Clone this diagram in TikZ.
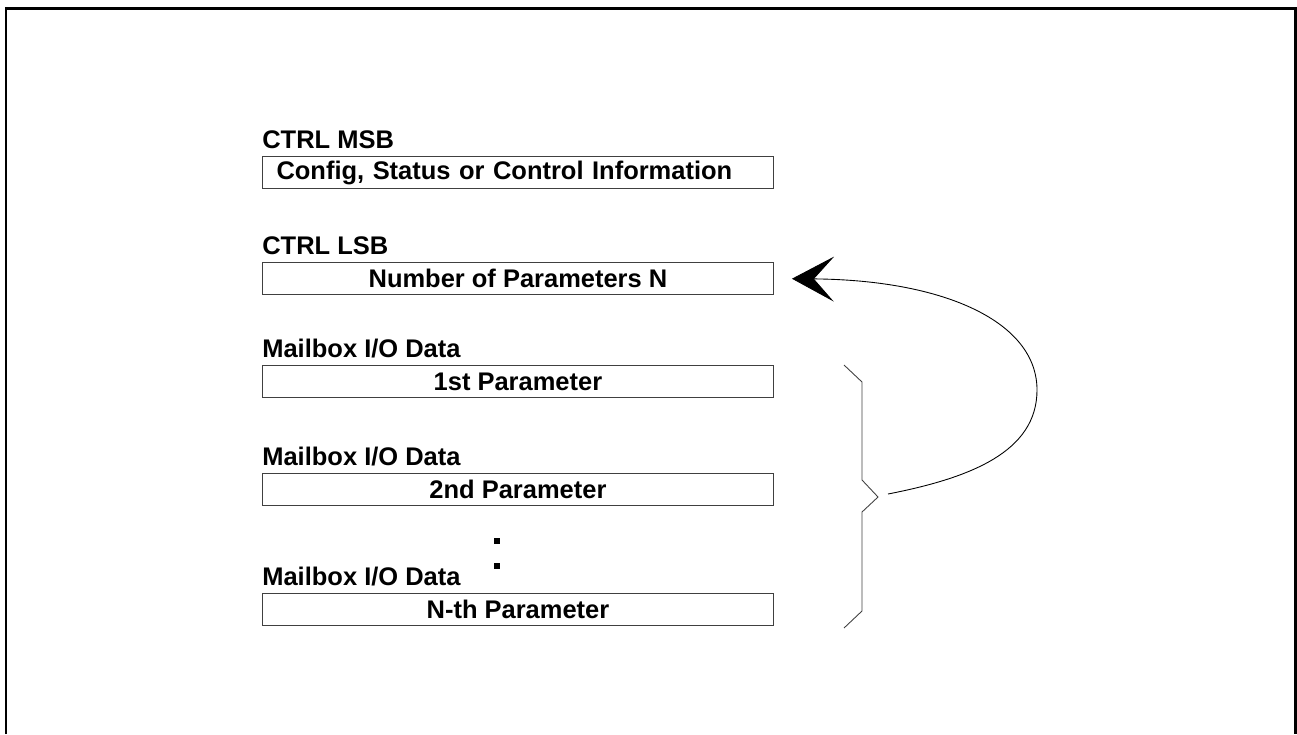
\documentclass[tikz,border=0pt]{standalone}
\usepackage{fontspec}
\setmainfont{Liberation Sans}
\usepackage{tikz}
\usepackage{xcolor}
\usetikzlibrary{arrows.meta,positioning}
\definecolor{edge}{HTML}{404040}

\begin{document}
\begin{tikzpicture}[x=0.02cm,y=-0.02cm,
    every node/.style={font=\fontsize{14.5}{17}\selectfont\bfseries},
    field/.style={draw=edge,line width=0.6pt,minimum width=10.22cm,minimum height=0.64cm,inner sep=0pt},
    lbl/.style={inner sep=0pt,anchor=base west}]
      \useasboundingbox (0,0) rectangle (1297,734);
      \draw[line width=0.06cm] (6,734) -- (6,8) -- (1295,8) -- (1295,734);
      \node[field,anchor=north west,text width=9.66cm,inner xsep=0.28cm,align=left] (msb) at (262,156) {Config, Status or Control Information};
      \node[field,below=1.46cm of msb] (num) {Number of Parameters N};
      \node[field,below=1.40cm of num] (p1) {1st Parameter};
      \node[field,below=1.50cm of p1] (p2) {2nd Parameter};
      \node[field,below=1.74cm of p2] (pn) {N-th Parameter};
      \node[lbl,above=0.16cm of msb.north west,anchor=base west] (lmsb) {CTRL MSB};
      \node[lbl,above=0.16cm of num.north west,anchor=base west] (lnum) {CTRL LSB};
      \foreach \b in {p1,p2,pn}
        \node[lbl,above=0.16cm of \b.north west,anchor=base west] (l\b) {Mailbox I/O Data};
      % dots between 2nd and N-th
      \foreach \y in {541,566} \fill (494,\y-3) rectangle (500,\y+3);
      % brace over the parameters
      \draw[edge,line width=0.5pt] (844,365) -- (862,382) -- (862,480) -- (878,497) coordinate (tip)
        -- (862,512) -- (862,611) -- (844,628);
      \draw[line width=0.5pt,-{Stealth[length=0.84cm,width=0.9cm,inset=0.4cm]},shorten >=0.36cm]
        ([xshift=0.2cm,yshift=0.06cm]tip) .. controls (970,478) and (1037,452) .. (1037,390)
        .. controls (1037,322) and (945,280) .. (num.east);
    \end{tikzpicture}
\end{document}
